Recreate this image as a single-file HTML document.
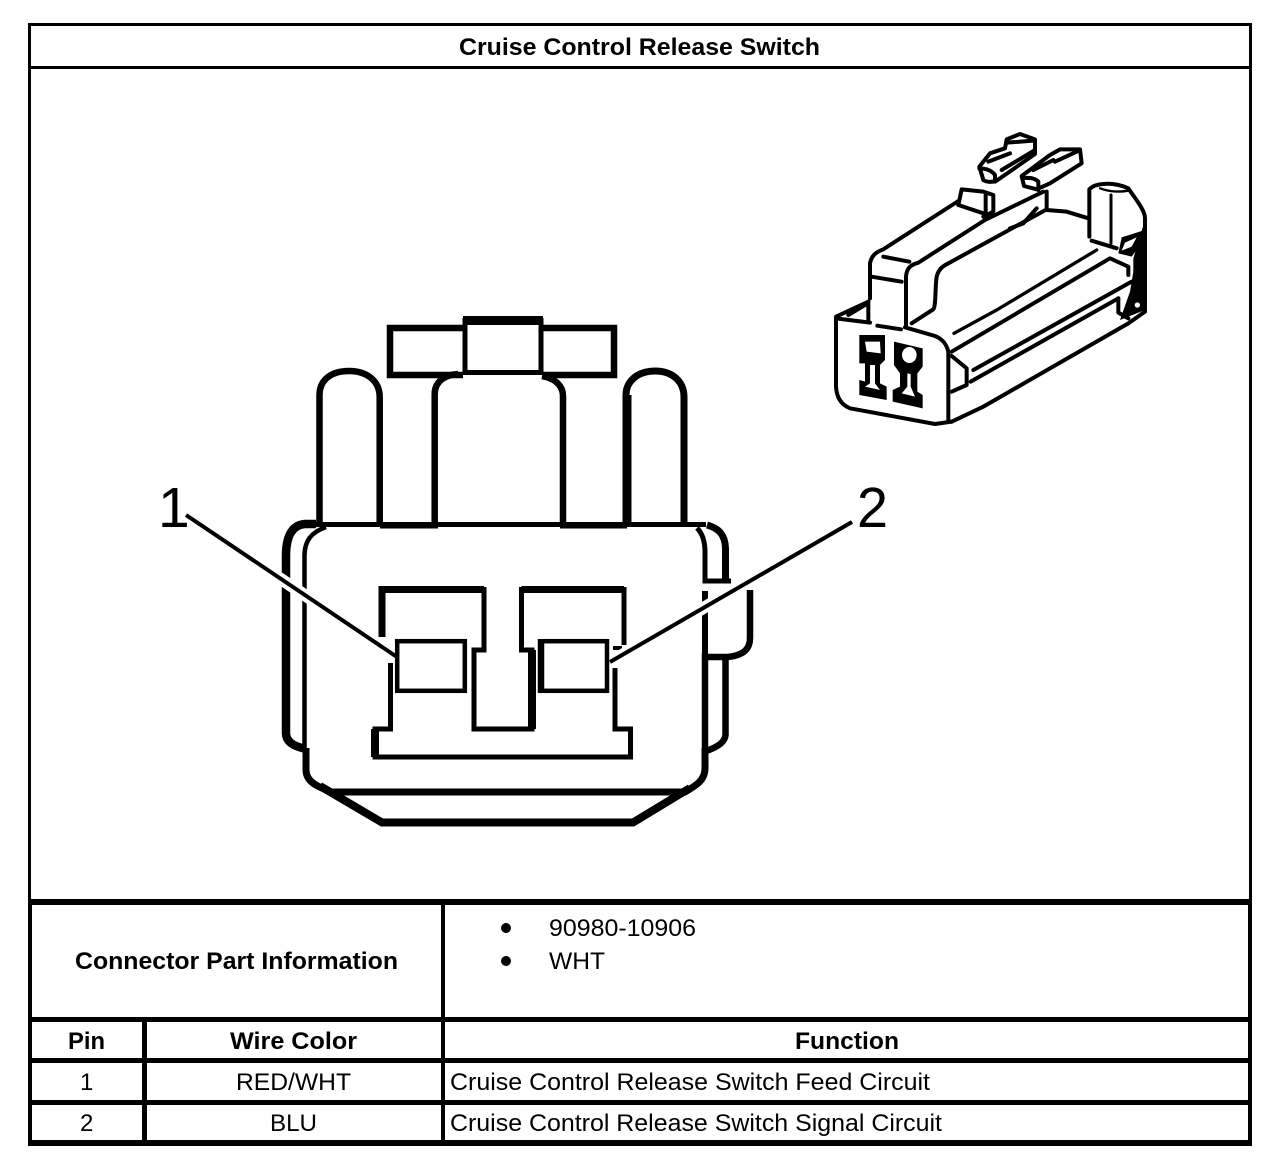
<!DOCTYPE html>
<html><head><meta charset="utf-8"><style>
html,body{margin:0;padding:0;background:#fff}
svg{display:block}
text{font-family:"Liberation Sans",sans-serif;fill:#000}
.b{font-weight:bold;font-size:24px}
.r{font-size:24px}
</style></head><body>
<svg width="1280" height="1160" viewBox="0 0 1280 1160" xmlns="http://www.w3.org/2000/svg">
<rect width="1280" height="1160" fill="#fff"/>
<!-- table frame -->
<g fill="#000" shape-rendering="crispEdges">
<rect x="28" y="23" width="1224" height="3"/>
<rect x="28" y="66" width="1224" height="3"/>
<rect x="28" y="899" width="1224" height="6"/>
<rect x="28" y="1017" width="1224" height="5"/>
<rect x="28" y="1058" width="1224" height="5"/>
<rect x="28" y="1100" width="1224" height="5"/>
<rect x="28" y="1140" width="1224" height="6"/>
<rect x="28" y="23" width="3" height="876"/>
<rect x="28" y="899" width="4" height="247"/>
<rect x="1249" y="23" width="3" height="876"/>
<rect x="1248" y="899" width="4" height="247"/>
<rect x="441" y="899" width="4" height="247"/>
<rect x="142" y="1017" width="5" height="129"/>
</g>
<!-- table text -->
<text class="b" x="459" y="55" textLength="361" lengthAdjust="spacingAndGlyphs">Cruise Control Release Switch</text>
<text class="b" x="75" y="969" textLength="323" lengthAdjust="spacingAndGlyphs">Connector Part Information</text>
<text class="b" x="68" y="1049" textLength="37" lengthAdjust="spacingAndGlyphs">Pin</text>
<text class="b" x="230" y="1049" textLength="127" lengthAdjust="spacingAndGlyphs">Wire Color</text>
<text class="b" x="795" y="1049" textLength="104" lengthAdjust="spacingAndGlyphs">Function</text>
<text class="r" x="80" y="1090">1</text>
<text class="r" x="80" y="1131">2</text>
<text class="r" x="236" y="1090" textLength="115" lengthAdjust="spacingAndGlyphs">RED/WHT</text>
<text class="r" x="270" y="1131" textLength="47" lengthAdjust="spacingAndGlyphs">BLU</text>
<text class="r" x="450" y="1090" textLength="480" lengthAdjust="spacingAndGlyphs">Cruise Control Release Switch Feed Circuit</text>
<text class="r" x="450" y="1131" textLength="492" lengthAdjust="spacingAndGlyphs">Cruise Control Release Switch Signal Circuit</text>
<text class="r" x="549" y="936" textLength="147" lengthAdjust="spacingAndGlyphs">90980-10906</text>
<text class="r" x="549" y="969" textLength="56" lengthAdjust="spacingAndGlyphs">WHT</text>
<circle cx="506" cy="928" r="5"/>
<circle cx="506" cy="961" r="5"/>

<!-- main connector view -->
<g fill="none" stroke="#000" stroke-linejoin="miter">
<!-- top tabs -->
<path d="M463 328H390V375H463" stroke-width="6.5"/>
<path d="M543 328H614V375H543" stroke-width="6.5"/>
<path d="M465 373V320.500H541V373" stroke-width="5"/>
<path d="M463 320.500H543" stroke-width="9"/>
<path d="M463 372.500H543" stroke-width="5"/>
<!-- fingers -->
<path d="M319.500 524V395C319.500 380 331 371 349 371C367 371 379.700 381 379.700 397V524" stroke-width="6.500"/>
<path d="M434.700 526V394C434.700 382 444 375 458 374M542 376C554 378 563 385 563 396V526" stroke-width="6.500"/>
<path d="M626 526V395C626 381 638 371 655 371C672 371 684 381 684 397V526" stroke-width="7"/>
<path d="M627 526V395" stroke-width="9"/>
<!-- body top -->
<path d="M297 524.500H706" stroke-width="5"/>
<path d="M380 526H438M560 526H627" stroke-width="5"/>
<!-- left outer shell -->
<path d="M316 524H305C291 525 286 538 286 556V733C286 741 292 746 306 749" stroke-width="8.500"/>
<!-- left inner body -->
<path d="M326 527C312 532 304.500 540 304.500 556V748" stroke-width="4.500"/>
<path d="M306 748V770C306 782 318 787 332 792H685C697 785 705 780 705 768V748" stroke-width="7"/>
<!-- bottom chamfer -->
<path d="M320 786L382 822.500H633L690 788" stroke-width="8"/>
<!-- right side -->
<path d="M697 528C703 534 705 542 705 552V581H731" stroke-width="5"/>
<path d="M707 525C718 528 725 534 725.500 548V582" stroke-width="7"/>
<path d="M705 591V657" stroke-width="6"/>
<path d="M705 750V657H728C745 655 750 648 750 638V590" stroke-width="6.500"/>
<path d="M725.500 656V735C725 742 718 747 706 751" stroke-width="6.500"/>
<!-- pin outline -->
<path d="M382 637V589.500H484V650H474V729H532V650H521.500V589.500H624V645" stroke-width="5"/>
<path d="M382 637V589.500H484M521.500 589.500H624" stroke-width="7"/>
<path d="M532 650V729" stroke-width="8"/>
<path d="M613 648H622" stroke-width="4"/>
<path d="M615 668V729H630.500V757H375V729H390.500V663" stroke-width="5"/>
<path d="M375 757V729" stroke-width="8"/>
</g>
<!-- leaders with white halo -->
<g fill="none" stroke-linecap="butt">
<path d="M186 515L398 658M852 522L610 662" stroke="#fff" stroke-width="12"/>
</g>
<g fill="none" stroke="#000">
<rect x="397.200" y="641.200" width="67.600" height="49.600" stroke-width="4.500" fill="#fff"/>
<rect x="540.500" y="641.200" width="66.500" height="49.600" stroke-width="4.500" fill="#fff"/>
<path d="M541 639V693" stroke-width="6.500"/>
<path d="M186 515L397 657M852 522L610 662" stroke-width="4"/>
</g>
<text x="158" y="527" style="font-size:57px">1</text>
<text x="857" y="527" style="font-size:57px" textLength="31" lengthAdjust="spacingAndGlyphs">2</text>

<!-- isometric view, coords in 3x zoom space -->
<g transform="translate(820 120) scale(.33333)" fill="none" stroke="#000" stroke-width="12" stroke-linejoin="round" stroke-linecap="round">
<!-- front face -->
<path d="M145 545L48 590V800C50 835 65 855 90 865L345 912L395 905M48 595L150 608"/>
<path d="M145 545V605M85 585L140 552"/>
<path d="M172 617L243 628M255 622L345 648C370 658 380 675 385 695V905"/>
<!-- bottom edge -->
<path d="M395 905L490 860L925 610L975 575"/>
<!-- top housing -->
<path d="M150 535V430C155 405 170 395 190 388L415 243"/>
<path d="M190 410L268 425M155 470L245 485"/>
<path d="M258 620V470C260 445 270 435 295 428L495 300L670 215"/>
<path d="M275 610L340 568C348 560 345 500 350 470C355 450 365 440 385 430L680 268"/>
<path d="M570 325L610 310L650 265"/>
<!-- square block -->
<path d="M415 255L425 208L490 215L520 225V275L490 290M415 255L490 280M497 225V280"/>
<!-- prongs -->
<path d="M490 180L478 140L510 100L555 85L560 58L600 42L645 58V102L530 182Q505 190 490 180"/>
<path d="M478 145Q510 145 525 165V185M505 125L570 100M560 68L640 62M545 150L645 90"/>
<path d="M650 208L612 198L605 168L690 105L720 88L780 88L785 130L690 190Z"/>
<path d="M610 175Q640 170 655 185V210M640 150L700 120M705 125L770 95"/>
<path d="M680 215V270L740 275L805 295"/>
<!-- end tab -->
<path d="M808 350V208C825 188 880 185 925 205C945 235 975 270 975 295V570"/>
<path d="M873 225V370" stroke-width="9"/>
<path d="M840 205Q880 220 925 212" stroke-width="7"/>
<path d="M815 362L890 385"/>
<!-- ridges -->
<path d="M402 640L530 570L830 390" stroke-width="10"/>
<path d="M395 695L870 415L925 440V465"/>
<path d="M460 750L935 485"/>
<path d="M452 785L895 535"/>
<path d="M395 708L440 745V795L395 815"/>
<path d="M895 535V578L925 595"/>
</g>
<g transform="translate(820 120) scale(.33333)" stroke="none">
<!-- thick black end -->
<path d="M940 415L975 300V570L900 600L930 515L940 455Z" fill="#000"/>
<path d="M895 400L905 352L975 330V355L935 410Z" fill="#000"/>
<circle cx="952" cy="555" r="8" fill="#fff"/>
<path d="M915 368L950 352L935 380L905 392Z" fill="#fff"/>
<!-- terminals -->
<path d="M118 645H195V720L180 735V790L200 800V840L118 825V780L135 785V730H118Z" fill="#000"/>
<path d="M135 665H180L182 700L140 695Z" fill="#fff"/>
<path d="M150 735H165V790L180 810L135 800L150 790Z" fill="#fff"/>
<path d="M222 665L308 685V740L292 760V815L308 825V865L218 845V810L240 800V760L222 735Z" fill="#000"/>
<ellipse cx="268" cy="705" rx="22" ry="24" fill="#fff"/>
<path d="M262 760L272 762V800L285 830L245 820L262 800Z" fill="#fff"/>
</g>
</svg>
</body></html>
